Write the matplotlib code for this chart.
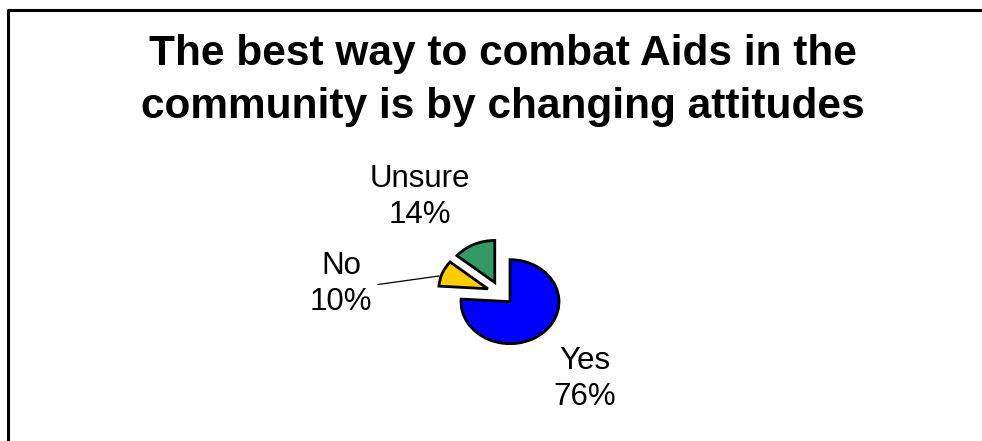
import matplotlib
matplotlib.use("Agg")
import matplotlib.pyplot as plt
from matplotlib.lines import Line2D

plt.rcParams['font.family'] = ['Liberation Sans', 'DejaVu Sans']

# data
labels = ['Yes', 'No', 'Unsure']
values = [76, 10, 14]
colors = ['#0000FF', '#FFCC00', '#339966']
title = 'The best way to combat Aids in the\ncommunity is by changing attitudes'

W, H = 982, 441
fig = plt.figure(figsize=(W / 100, H / 100), dpi=100)

# pie centre ~ (500.6, 293) px, radius 49 px wide, 42 px tall
cx, cy = 500.6, 293.1
rx, ry = 49.0, 42.0
lim = 3.0
ax = fig.add_axes([(cx - lim * rx) / W, (H - cy - lim * ry) / H,
                   2 * lim * rx / W, 2 * lim * ry / H])
wedges, _ = ax.pie(values, colors=colors, explode=[0.28] * 3, startangle=90,
                   counterclock=False,
                   wedgeprops=dict(edgecolor='black', linewidth=2))
ax.set_aspect('auto')
ax.set_xlim(-lim, lim)
ax.set_ylim(-lim, lim)
ax.axis('off')

# label positions (px, from top-left)
label_pos = {'Yes': (585, 379), 'No': (341, 284), 'Unsure': (420, 197)}
for lab, v in zip(labels, values):
    x, y = label_pos[lab]
    fig.text(x / W, 1 - y / H, '%s\n%d%%' % (lab, v), ha='center', va='center',
             multialignment='center', fontsize=22.5, linespacing=1.3)

# leader line for "No"
fig.add_artist(Line2D([378 / W, 439 / W], [1 - 284.5 / H, 1 - 276 / H],
                      color='black', linewidth=0.9))

# va='baseline' sits the last line's baseline on y
fig.text(503 / W, 1 - 118 / H, title, ha='center', va='baseline', fontsize=30.5,
         fontweight='bold', linespacing=1.42)

# outer frame (cut off at right and bottom)
fig.add_artist(Line2D([7.5 / W, 7.5 / W, 1.01], [-0.01, 1 - 9.5 / H, 1 - 9.5 / H],
                      color='black', linewidth=2.2))

fig.savefig('out.png', dpi=100, facecolor='white')
